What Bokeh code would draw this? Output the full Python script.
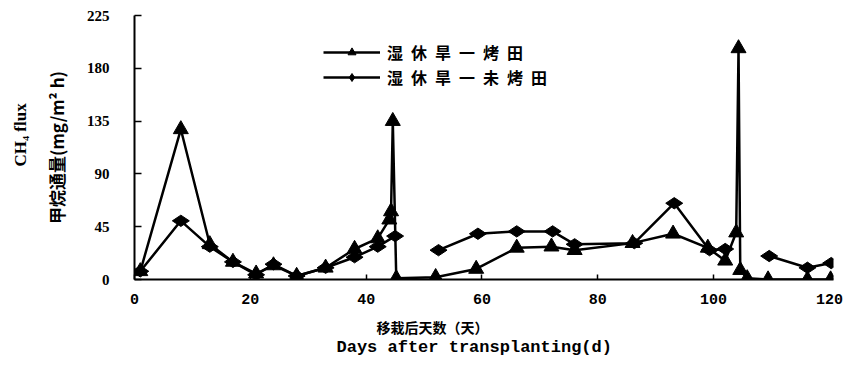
import math
from bokeh.plotting import figure
from bokeh.models import Range1d, Legend, LegendItem, FixedTicker, Title
from bokeh.embed import file_html
from bokeh.resources import INLINE

# ---- data ----
days_dry = [1, 8, 13, 17, 21, 24, 28, 33, 38, 42, 44, 44.3, 44.6, 45.2, 52, 59, 66, 72, 76, 86, 93, 99, 102, 103.9, 104.3, 104.6, 105.8, 109.4, 116.2, 120.2]
flux_dry = [7, 128, 30, 15, 5, 12, 3, 10, 26, 35, 51, 58, 135, 1, 2, 9, 27, 28, 25, 31, 39, 27, 16, 40, 197, 8, 1, 0, 0, 0]

days_wet = [1, 8, 13, 17, 21, 24, 28, 33, 38, 42, 45, float("nan"), 52.5, 59.3, 66, 72.2, 76, 86.3, 93.2, 99.3, 102, float("nan"), 109.6, 116.2, 120.3]
flux_wet = [7, 50, 28, 15, 4, 13, 3, 10, 19, 28, 37, float("nan"), 25, 39, 41, 41, 30, 31, 65, 25, 26, float("nan"), 20, 10, 14]

series_labels = ["湿\u2002休\u2002旱\u2002一\u2002烤\u2002田", "湿\u2002休\u2002旱\u2002一\u2002未\u2002烤\u2002田"]
x_ticks = [0, 20, 40, 60, 80, 100, 120]
y_ticks = [0, 45, 90, 135, 180, 225]
x_title_cn = "移栽后天数（天）"
x_title_en = "Days after transplanting(d)"
y_title_en = "CH₄ flux"
y_title_cn = "甲烷通量(mg/m² h)"

p = figure(width=844, height=365,
           x_range=Range1d(0, 120.7), y_range=Range1d(0, 225),
           output_backend="svg", toolbar_location=None,
           min_border_left=134, min_border_right=11,
           min_border_top=15, min_border_bottom=86)

p.xgrid.visible = False
p.ygrid.visible = False
p.outline_line_color = None
p.background_fill_color = "white"
p.border_fill_color = "white"

for ax in (p.xaxis[0], p.yaxis[0]):
    ax.axis_line_width = 2
    ax.axis_line_color = "black"
    ax.major_tick_line_color = "black"
    ax.major_tick_line_width = 1.5
    ax.major_tick_out = 0
    ax.minor_tick_line_color = None
    ax.minor_tick_out = 0
    ax.major_label_text_color = "black"
    ax.major_label_text_font_style = "bold"

p.xaxis.ticker = FixedTicker(ticks=x_ticks)
p.yaxis.ticker = FixedTicker(ticks=y_ticks)
p.xaxis.major_tick_in = 5
p.yaxis.major_tick_in = 7
p.xaxis.major_label_text_font = "Liberation Mono"
p.xaxis.major_label_text_font_size = "15px"
p.xaxis.major_label_standoff = 14
p.yaxis.major_label_text_font = "Liberation Serif"
p.yaxis.major_label_text_font_size = "15px"
p.yaxis.major_label_standoff = 25

# Chinese y title as the axis label
p.yaxis.axis_label = y_title_cn
p.yaxis.axis_label_text_font = "Noto Sans CJK SC"
p.yaxis.axis_label_text_font_style = "bold"
p.yaxis.axis_label_text_font_size = "17px"
p.yaxis.axis_label_text_color = "black"
p.yaxis.axis_label_standoff = 15

p.add_layout(Title(text=y_title_en, align="left", offset=113, standoff=18,
                   vertical_align="top", text_font="Liberation Serif",
                   text_font_size="17px", text_font_style="bold",
                   text_color="black"), "left")
p.add_layout(Title(text=x_title_cn, align="left", offset=242, standoff=16,
                   text_font="Noto Sans CJK SC", text_font_size="14px",
                   text_font_style="bold", text_color="black"), "below")
p.add_layout(Title(text=x_title_en, align="left", offset=202, standoff=-18,
                   text_font="Liberation Mono", text_font_size="17px",
                   text_font_style="bold", text_color="black"), "below")

l1 = p.line(days_dry, flux_dry, line_width=2.5, line_color="black")
s1 = p.scatter(days_dry, flux_dry, marker="triangle", size=15, color="black")
l2 = p.line(days_wet, flux_wet, line_width=2.5, line_color="black")
s2 = p.scatter(days_wet, flux_wet, marker="diamond", size=17, angle=math.pi / 2, color="black")

legend = Legend(items=[LegendItem(label=series_labels[0], renderers=[l1, s1]),
                       LegendItem(label=series_labels[1], renderers=[l2, s2])],
                location=(189, 190), orientation="vertical",
                glyph_width=57, glyph_height=20, label_height=20, spacing=1,
                label_standoff=7, padding=0, margin=0,
                border_line_color=None, background_fill_alpha=0,
                label_text_font="Noto Sans CJK SC", label_text_font_style="bold",
                label_text_font_size="16px", label_text_color="black")
p.add_layout(legend)

open("out.html", "w").write(file_html(p, INLINE))
